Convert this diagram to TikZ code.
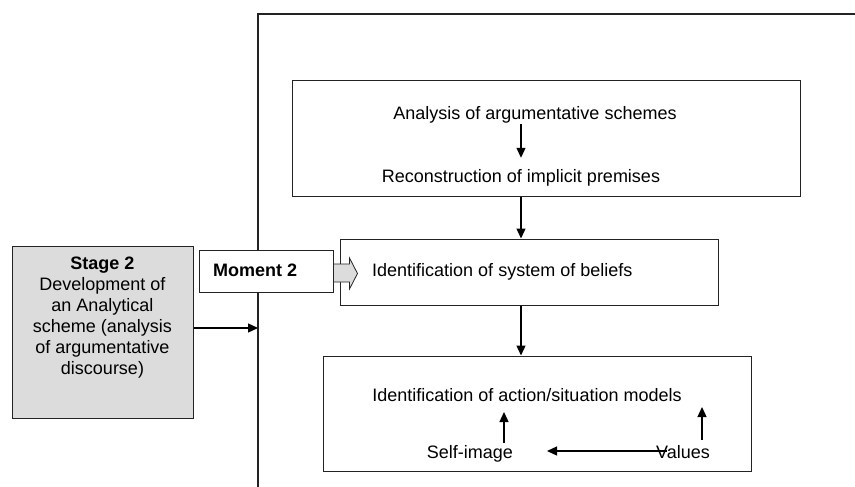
\documentclass[tikz,border=0pt]{standalone}
\usepackage{fontspec}
\setmainfont{Liberation Sans}
\usetikzlibrary{arrows.meta,calc}
\definecolor{boxgray}{RGB}{220,220,220}
\definecolor{edgec}{RGB}{35,35,35}
\begin{document}
\begin{tikzpicture}[x=1pt,y=-1pt,
  every node/.style={font=\fontsize{18}{21}\selectfont, inner sep=0pt},
  box/.style={draw=edgec, line width=1pt, rectangle, fill=white},
  conn/.style={line width=1.3pt, -{Triangle[length=10pt,width=9pt]}},
  txt/.style={anchor=base}
]
\useasboundingbox (0,0) rectangle (855,487);
% outer frame
\draw[line width=2pt, draw=edgec] (862,14) -- (258,14) -- (258,492);
\coordinate (fr) at (258,328);

% box A
\node[box, minimum width=508pt, minimum height=115pt] (A) at (546,138.5) {};
\node[txt] (a1) at (535,120) {Analysis of argumentative schemes};
\node[txt] (a2) at (521,182) {Reconstruction of implicit premises};

% box B
\node[box, minimum width=378pt, minimum height=66pt] (B) at (529,272) {};
\node[anchor=base west] (bt) at (372,276.5) {Identification of system of beliefs};

% box C
\node[box, minimum width=428pt, minimum height=115pt] (C) at (537,413.5) {};
\node[txt] (ct) at (527,401.5) {Identification of action/situation models};
\node[txt] (si) at (470,458) {Self-image};
\node[txt] (va) at (683,458) {Values};

% stage box
\node[box, fill=boxgray, minimum width=181pt, minimum height=172pt] (S) at (102.5,332) {};
\node[anchor=north, align=center] (st) at (102.5,257) {\textbf{Stage 2}\\Development of\\an Analytical\\scheme (analysis\\of argumentative\\discourse)};

% moment box
\node[box, minimum width=134pt, minimum height=42pt] (M) at (266,271) {};
\node[anchor=base west] (mt) at (213,276) {\textbf{Moment 2}};

% connectors
\draw[conn] (a1.south -| a2.base) -- ($(a2.north -| a2.base)+(0,-11)$);
\draw[conn] (A.south -| a2.base) -- (B.north -| a2.base);
\draw[conn] (B.south -| a2.base) -- (C.north -| a2.base);
\draw[conn] (S.east |- fr) -- (fr);

\coordinate (u1s) at (504,443);
\coordinate (u1e) at (504,412);
\coordinate (u2s) at (702,440);
\coordinate (u2e) at (702,407);
\coordinate (ls) at (667,451);
\coordinate (le) at (547,451);
\draw[conn] (u1s) -- (u1e);
\draw[conn] (u2s) -- (u2e);
\draw[conn] (ls) -- (le);

% block arrow Moment 2 -> box B
\draw[fill=boxgray, draw=edgec, line width=0.8pt]
  ($(M.east)+(0,-7)$) -- ($(M.east)+(16,-7)$) -- ($(M.east)+(16,-13)$)
  -- ($(M.east)+(24,2.5)$) -- ($(M.east)+(16,18)$) -- ($(M.east)+(16,11)$)
  -- ($(M.east)+(0,11)$) -- cycle;
\end{tikzpicture}
\end{document}
